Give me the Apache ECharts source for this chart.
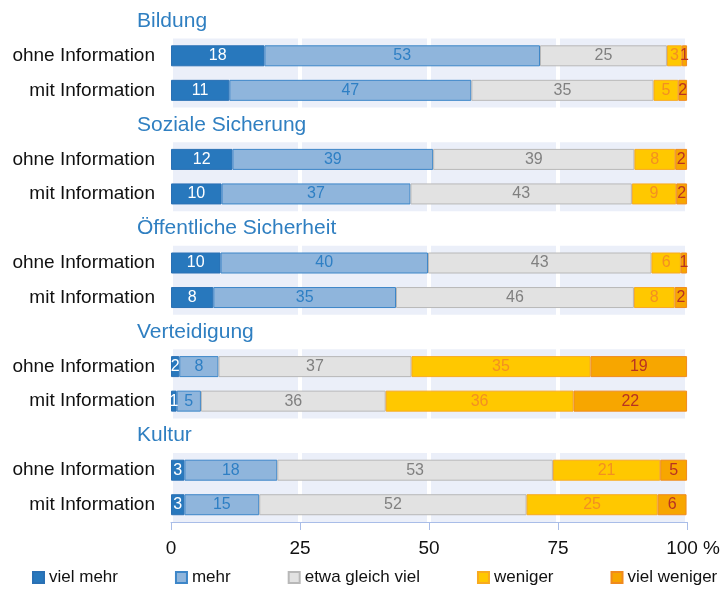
<!DOCTYPE html>
<html>
<head>
<meta charset="utf-8">
<script src="https://cdn.jsdelivr.net/npm/echarts@6/dist/echarts.min.js"></script>
<style>
  html, body { margin: 0; padding: 0; background: #fff; }
  #chart { width: 723px; height: 589px; }
</style>
</head>
<body>
<div id="chart"></div>
<script>
// groups and the two rows in each group
const groups = ['Bildung', 'Soziale Sicherung', 'Öffentliche Sicherheit', 'Verteidigung', 'Kultur'];
const rowNames = ['ohne Information', 'mit Information'];
const answers = ['viel mehr', 'mehr', 'etwa gleich viel', 'weniger', 'viel weniger'];

// shares in percent, one entry per bar (ohne, mit for each group)
const vielMehr    = [18.1, 11.3, 11.9,  9.8,  9.6,  8.2,  1.6,  1.1,  2.6,  2.6];
const mehr        = [53.4, 46.9, 38.9, 36.6, 40.2, 35.4,  7.6,  4.7, 18.0, 14.5];
const gleichViel  = [24.6, 35.3, 39.0, 42.9, 43.3, 46.1, 37.4, 35.8, 53.4, 51.8];
const weniger     = [ 2.9,  4.8,  7.9,  8.6,  5.7,  7.9, 34.7, 36.4, 20.8, 25.4];
const vielWeniger = [ 1.0,  1.7,  2.3,  2.1,  1.2,  2.4, 18.7, 22.0,  5.2,  5.6];

const xTicks = [0, 25, 50, 75, 100];

const colors = {
  fill:   ['#2878bd', '#8fb5dc', '#e2e2e2', '#ffc800', '#f7a600'],
  border: ['#2a70b4', '#3d86c8', '#b8b8b8', '#f8aa20', '#f08a1e'],
  label:  ['#ffffff', '#2e7fc4', '#808080', '#f39021', '#b83222']
};

// one category row per title and per bar
const rows = [];
groups.forEach((g, gi) => {
  rows.push('T|' + g);
  rowNames.forEach((r) => rows.push('B|' + r + '|' + gi));
});

function toRows(values) {
  const out = [];
  let k = 0;
  groups.forEach(() => {
    out.push('-');
    out.push(values[k++]);
    out.push(values[k++]);
  });
  return out;
}

const seriesValues = [vielMehr, mehr, gleichViel, weniger, vielWeniger];

const chart = echarts.init(document.getElementById('chart'));

const option = {
  animation: false,
  textStyle: { fontFamily: 'Liberation Sans, Arial, sans-serif' },
  grid: { left: 171, right: 33, top: 4, bottom: 67 },
  legend: {
    left: 32,
    top: 569,
    width: 700,
    padding: 0,
    itemWidth: 11,
    itemHeight: 11,
    itemGap: 57,
    icon: 'rect',
    textStyle: { fontSize: 17, color: '#111' },
    data: answers
  },
  xAxis: {
    type: 'value',
    min: 0,
    max: 100,
    interval: 25,
    z: 1,
    axisLine: { show: true, lineStyle: { color: '#a9bde8', width: 1 } },
    axisTick: { show: true, length: 8, lineStyle: { color: '#a9bde8' } },
    splitLine: { show: true, lineStyle: { color: '#ffffff', width: 4 } },
    axisLabel: {
      fontSize: 19,
      color: '#111',
      margin: 17,
      customValues: xTicks,
      formatter: (v) => (v === 100 ? '{p|100 %}' : String(v)),
      rich: { p: { fontSize: 19, color: '#111', padding: [0, 0, 0, 12] } }
    }
  },
  yAxis: [
    {
      type: 'category',
      inverse: true,
      data: rows,
      z: 0,
      axisLine: { show: false },
      axisTick: { show: false },
      splitArea: {
        show: true,
        areaStyle: { color: ['rgba(0,0,0,0)', '#ebeff9', '#ebeff9'] }
      },
      axisLabel: {
        fontSize: 19,
        color: '#111',
        margin: 16,
        formatter: (v) => (v.startsWith('B|') ? v.split('|')[1] : '')
      }
    },
    {
      // second axis only carries the blue group titles
      type: 'category',
      inverse: true,
      position: 'left',
      data: rows,
      z: 5,
      axisLine: { show: false },
      axisTick: { show: false },
      splitLine: { show: false },
      axisLabel: {
        fontSize: 21,
        color: '#2f7fc1',
        margin: 34,
        align: 'left',
        formatter: (v) => (v.startsWith('T|') ? v.slice(2) : '')
      }
    }
  ],
  series: answers.map((name, i) => ({
    name: name,
    type: 'bar',
    stack: 'total',
    barWidth: 21,
    yAxisIndex: 0,
    data: toRows(seriesValues[i]),
    itemStyle: {
      color: colors.fill[i],
      borderColor: colors.border[i],
      borderWidth: 1
    },
    label: {
      show: true,
      position: 'inside',
      fontSize: 16,
      color: colors.label[i],
      formatter: (p) => String(Math.round(p.value))
    }
  }))
};

chart.setOption(option);
</script>
</body>
</html>
